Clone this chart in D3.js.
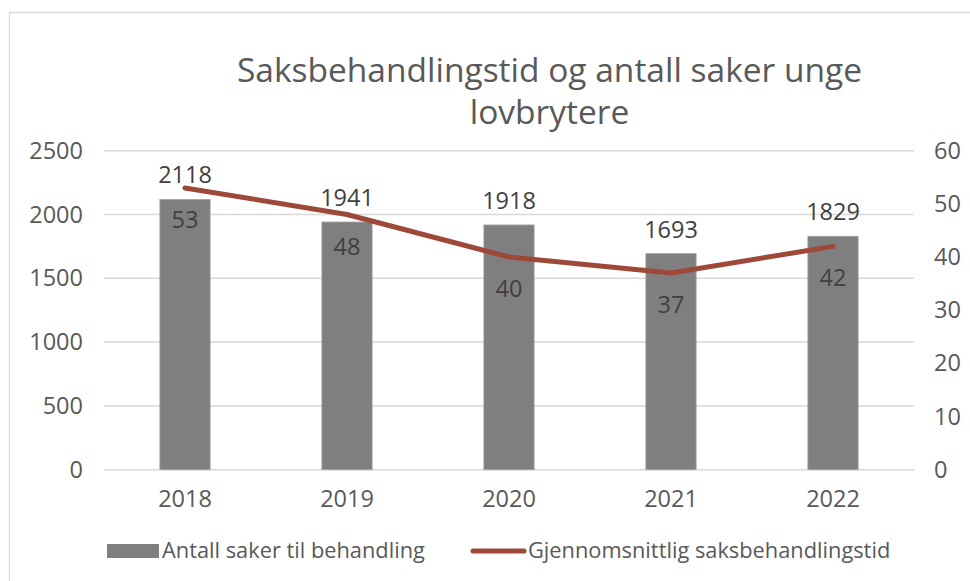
<!DOCTYPE html>
<head>
    <meta charset="UTF-8">
    <script src="https://cdnjs.cloudflare.com/ajax/libs/d3/7.8.5/d3.min.js"></script>
    <style>
        body { margin: 0; background: #fff; }
        text { font-family: "Open Sans", sans-serif; }
    </style>
</head>
<body>
    <svg id="chart"></svg>
    <script>
        // ---------- datos ----------
        var years = ["2018", "2019", "2020", "2021", "2022"];
        var antallSaker = [2118, 1941, 1918, 1693, 1829];
        var saksbehandlingstid = [53, 48, 40, 37, 42];
        var leftTicks = [0, 500, 1000, 1500, 2000, 2500];
        var rightTicks = [0, 10, 20, 30, 40, 50, 60];

        var width = 970, height = 581;
        var plot = { left: 104, right: 914, top: 150.7, bottom: 469.7 };

        var grey = "#7f7f7f", red = "#9e483a", textCol = "#595959", labelCol = "#404040";

        var svg = d3.select("#chart").attr("width", width).attr("height", height);

        // marco del gráfico
        svg.append("rect")
            .attr("x", 9.5).attr("y", 12.5)
            .attr("width", 1000).attr("height", 700)
            .style("fill", "#fff").style("stroke", "#d9d9d9").style("stroke-width", 1.3);

        var x = d3.scaleBand().domain(years).range([plot.left, plot.right]).paddingInner(0.69).paddingOuter(0.345);
        var yL = d3.scaleLinear().domain([0, 2500]).range([plot.bottom, plot.top]);
        var yR = d3.scaleLinear().domain([0, 60]).range([plot.bottom, plot.top]);

        // titulo
        var title = svg.append("text")
            .attr("text-anchor", "middle")
            .style("font-size", "33.5px").style("fill", textCol);
        title.append("tspan").attr("x", 549.5).attr("y", 82).text("Saksbehandlingstid og antall saker unge");
        title.append("tspan").attr("x", 549.5).attr("y", 124).text("lovbrytere");

        // lineas de grilla
        svg.append("g").selectAll("line")
            .data(leftTicks)
            .enter().append("line")
            .attr("x1", plot.left).attr("x2", plot.right)
            .attr("y1", function (d) { return yL(d); })
            .attr("y2", function (d) { return yL(d); })
            .style("stroke", "#d9d9d9").style("stroke-width", 1.5);

        // ejes
        var axisL = svg.append("g").attr("transform", "translate(" + plot.left + ",0)")
            .call(d3.axisLeft(yL).tickValues(leftTicks).tickFormat(d3.format("d")).tickSize(0).tickPadding(21));
        var axisR = svg.append("g").attr("transform", "translate(" + plot.right + ",0)")
            .call(d3.axisRight(yR).tickValues(rightTicks).tickFormat(d3.format("d")).tickSize(0).tickPadding(20));
        var axisB = svg.append("g").attr("transform", "translate(0," + plot.bottom + ")")
            .call(d3.axisBottom(x).tickSize(0).tickPadding(21));

        [axisL, axisR, axisB].forEach(function (a) {
            a.select(".domain").remove();
            a.selectAll("text").style("font-size", "23.5px").style("fill", textCol)
                .style("font-family", "'Open Sans', sans-serif");
        });

        // barras
        svg.append("g").selectAll("rect")
            .data(antallSaker)
            .enter().append("rect")
            .attr("x", function (d, i) { return x(years[i]); })
            .attr("width", x.bandwidth())
            .attr("y", function (d) { return yL(d); })
            .attr("height", function (d) { return yL(0) - yL(d); })
            .style("fill", grey).style("stroke", "#a0a0a0").style("stroke-width", 0.8);

        // linea
        var line = d3.line()
            .x(function (d, i) { return x(years[i]) + x.bandwidth() / 2; })
            .y(function (d) { return yR(d); });

        svg.append("path")
            .datum(saksbehandlingstid)
            .attr("d", line)
            .style("fill", "none").style("stroke", red)
            .style("stroke-width", 5).style("stroke-linecap", "round").style("stroke-linejoin", "round");

        // etiquetas de barras
        svg.append("g").selectAll("text")
            .data(antallSaker)
            .enter().append("text")
            .attr("x", function (d, i) { return x(years[i]) + x.bandwidth() / 2; })
            .attr("y", function (d) { return yL(d) - 16; })
            .attr("text-anchor", "middle")
            .style("font-size", "23.5px").style("fill", labelCol)
            .text(function (d) { return d; });

        // etiquetas de linea
        svg.append("g").selectAll("text")
            .data(saksbehandlingstid)
            .enter().append("text")
            .attr("x", function (d, i) { return x(years[i]) + x.bandwidth() / 2; })
            .attr("y", function (d) { return yR(d) + 40; })
            .attr("text-anchor", "middle")
            .style("font-size", "23.5px").style("fill", labelCol)
            .text(function (d) { return d; });

        // leyenda
        var legend = svg.append("g");
        legend.append("rect")
            .attr("x", 107).attr("y", 544).attr("width", 52).attr("height", 14)
            .style("fill", grey);
        legend.append("text")
            .attr("x", 162).attr("y", 558)
            .style("font-size", "21.8px").style("fill", textCol)
            .text("Antall saker til behandling");
        legend.append("line")
            .attr("x1", 473).attr("x2", 524).attr("y1", 551).attr("y2", 551)
            .style("stroke", red).style("stroke-width", 5).style("stroke-linecap", "round");
        legend.append("text")
            .attr("x", 528).attr("y", 558)
            .style("font-size", "21.8px").style("fill", textCol)
            .text("Gjennomsnittlig saksbehandlingstid");
    </script>
</body>
